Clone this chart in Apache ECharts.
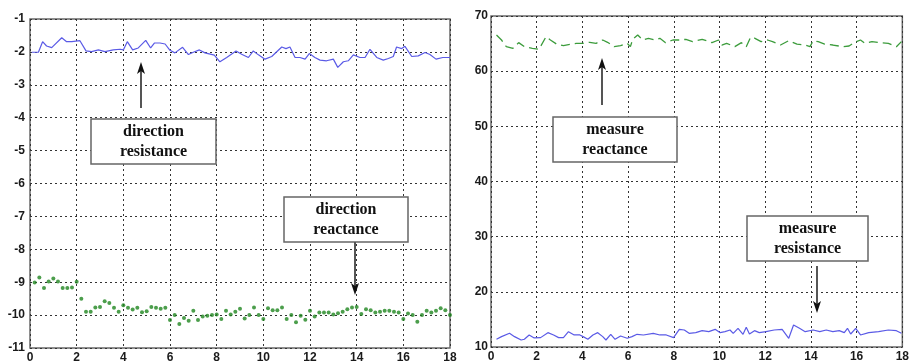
<!DOCTYPE html>
<html>
<head>
<meta charset="utf-8">
<script src="https://cdn.jsdelivr.net/npm/echarts@6/dist/echarts.min.js"></script>
<style>
  html, body { margin: 0; padding: 0; background: #fff; }
  #chart { width: 912px; height: 364px; }
</style>
</head>
<body>
<div id="chart"></div>
<script>
// left panel: direction resistance (blue line)
var dirResX = [0.07, 0.36, 0.54, 0.71, 0.93, 1.36, 1.57, 1.79, 2.14, 2.4, 2.64, 2.93, 3.21, 3.57, 3.86, 4.0, 4.17, 4.4, 4.64, 4.96,
    5.17, 5.33, 5.57, 5.79, 6.0, 6.21, 6.54, 6.79, 7.0, 7.26, 7.5, 7.9, 8.14, 8.43, 8.83, 9.07, 9.36, 9.57, 9.79, 10.07,
    10.36, 10.79, 10.97, 11.14, 11.36, 11.57, 11.79, 11.97, 12.21, 12.43, 12.71, 13.0, 13.19, 13.43, 13.64, 13.86, 14.14, 14.36, 14.57, 14.86,
    15.14, 15.36, 15.57, 15.71, 15.93, 16.07, 16.36, 16.64, 16.93, 17.14, 17.4, 17.69, 18.0];
var dirResY = [-2.01, -2.01, -1.69, -1.82, -1.87, -1.57, -1.69, -1.69, -1.66, -1.97, -1.99, -1.94, -1.99, -1.94, -1.92, -1.94, -1.69, -1.94, -1.88, -1.65,
    -1.88, -1.73, -1.73, -1.76, -1.95, -2.03, -1.86, -2.08, -2.01, -1.94, -2.03, -2.1, -2.3, -2.17, -1.97, -2.07, -2.17, -1.97, -2.09, -2.22,
    -2.14, -1.85, -1.9, -1.85, -2.17, -2.17, -2.22, -2.05, -2.17, -2.25, -2.27, -2.22, -2.47, -2.3, -2.27, -2.09, -2.17, -2.17, -1.92, -2.17,
    -2.25, -2.2, -2.14, -1.85, -1.9, -1.83, -2.14, -2.12, -2.02, -2.08, -2.22, -2.17, -2.17];

// left panel: direction reactance (green dots), sampled every 0.2
var dirReactStep = 0.2;
var dirReactY = [-9.01, -8.86, -9.18, -8.98, -8.89, -8.98, -9.18, -9.18, -9.16, -8.99,
    -9.5, -9.9, -9.9, -9.77, -9.75, -9.58, -9.63, -9.78, -9.9, -9.7,
    -9.78, -9.83, -9.78, -9.91, -9.88, -9.75, -9.78, -9.81, -9.78, -10.15,
    -10.0, -10.27, -10.09, -10.17, -9.87, -10.15, -10.04, -10.02, -10.0, -9.98,
    -10.12, -9.87, -9.98, -9.9, -9.81, -10.1, -10.0, -9.77, -10.0, -10.12,
    -9.79, -9.85, -9.85, -9.77, -10.12, -10.0, -10.22, -10.02, -10.14, -9.87,
    -10.04, -9.92, -9.92, -9.92, -9.98, -9.94, -9.9, -9.82, -9.77, -9.75,
    -9.97, -9.82, -9.85, -9.92, -9.9, -9.87, -9.87, -9.9, -9.92, -10.12,
    -9.95, -10.0, -10.2, -10.0, -9.87, -9.92, -9.87, -9.79, -9.85, -10.0];

// right panel: measure reactance (green dashed)
var measReactX = [0.24, 0.46, 0.67, 0.96, 1.21, 1.46, 1.81, 2.1, 2.41, 2.6, 2.89, 3.17, 3.46, 3.74, 4.03, 4.32, 4.6, 4.89, 5.1, 5.39,
    5.67, 5.96, 6.1, 6.2, 6.42, 6.64, 6.89, 7.17, 7.39, 7.64, 7.96, 8.24, 8.53, 8.82, 9.24, 9.67, 9.96, 10.1, 10.31, 10.67,
    10.96, 11.17, 11.36, 11.53, 11.82, 12.1, 12.32, 12.67, 13.03, 13.39, 13.75, 13.96, 14.1, 14.32, 14.6, 14.96, 15.39, 15.67, 15.89, 16.17,
    16.36, 16.67, 17.03, 17.39, 17.74, 17.96];
var measReactY = [66.56, 65.65, 64.44, 64.14, 65.17, 64.44, 64.14, 63.96, 66.25, 65.65, 64.86, 64.62, 64.86, 65.05, 65.05, 65.23, 65.05, 65.65, 65.23, 64.44,
    64.62, 65.05, 64.44, 65.77, 66.56, 65.65, 65.96, 65.65, 65.96, 65.17, 65.65, 65.65, 65.77, 65.35, 65.77, 65.17, 65.65, 64.74, 65.05, 64.44,
    65.17, 64.44, 66.13, 66.0, 65.35, 65.65, 65.35, 64.74, 65.53, 64.92, 64.74, 64.44, 65.53, 65.35, 64.92, 64.74, 64.44, 64.56, 65.17, 65.65,
    65.05, 65.35, 65.17, 65.05, 64.44, 65.35];

// right panel: measure resistance (blue line)
var measResX = [0.24, 0.46, 0.81, 1.03, 1.32, 1.46, 1.67, 1.89, 2.17, 2.49, 2.74, 2.96, 3.17, 3.39, 3.64, 3.89, 4.03, 4.24, 4.46, 4.67,
    4.89, 5.03, 5.24, 5.43, 5.67, 5.96, 6.17, 6.39, 6.67, 7.1, 7.39, 7.67, 7.99, 8.24, 8.46, 8.67, 8.96, 9.24, 9.53, 9.81,
    10.03, 10.24, 10.46, 10.6, 10.81, 11.03, 11.17, 11.31, 11.53, 11.74, 12.03, 12.39, 12.74, 13.03, 13.24, 13.5, 13.75, 14.1, 14.39, 14.67,
    14.96, 15.24, 15.46, 15.6, 15.74, 15.96, 16.17, 16.53, 16.96, 17.39, 17.74, 17.96];
var measResY = [11.4, 11.88, 12.48, 11.88, 11.27, 11.4, 12.18, 11.65, 11.7, 12.6, 12.18, 11.7, 11.7, 12.78, 12.18, 12.18, 11.88, 11.4, 12.18, 12.6,
    11.88, 11.27, 12.3, 11.4, 12.0, 11.58, 11.88, 12.3, 12.18, 12.48, 12.18, 12.18, 11.7, 13.2, 13.08, 12.48, 12.6, 12.96, 12.78, 13.2,
    12.6, 12.78, 13.08, 12.48, 13.39, 12.3, 13.57, 12.36, 12.96, 12.6, 12.78, 13.08, 13.2, 11.58, 14.0, 13.39, 12.78, 13.08, 12.78, 13.08,
    12.78, 12.96, 12.6, 13.39, 12.36, 13.39, 12.18, 12.6, 12.78, 13.08, 12.96, 12.48];

var xTicks = [0, 2, 4, 6, 8, 10, 12, 14, 16, 18];

function zip(xs, ys) {
    var out = [];
    for (var i = 0; i < ys.length; i++) out.push([xs[i], ys[i]]);
    return out;
}
var dirReactData = dirReactY.map(function (v, i) { return [(i + 1) * dirReactStep, v]; });

var labelStyle = { color: '#1a1a1a', fontWeight: 'bold', fontSize: 12, fontFamily: 'Liberation Sans' };
var gridLine = { show: true, lineStyle: { color: '#333', type: [2, 3], width: 1 } };

function xAxisFor(idx) {
    return {
        type: 'value', gridIndex: idx, min: xTicks[0], max: xTicks[xTicks.length - 1], interval: 2,
        axisLine: { show: false }, axisTick: { show: false },
        axisLabel: Object.assign({ margin: 4 }, labelStyle),
        splitLine: gridLine
    };
}

// annotation box + arrow, pixel positions
function note(x, y, w, h, text, ax, ay1, ay2) {
    var up = ay2 < ay1;
    var tipDir = up ? 1 : -1;
    return [
        { type: 'rect', shape: { x: x, y: y, width: w, height: h }, style: { fill: '#fff', stroke: '#666', lineWidth: 1.5 }, z: 10 },
        { type: 'text', x: x + w / 2, y: y + h / 2, style: { text: text, fill: '#111', font: 'bold 16px "Liberation Serif"', align: 'center', verticalAlign: 'middle', lineHeight: 20 }, z: 11 },
        { type: 'line', shape: { x1: ax, y1: ay1, x2: ax, y2: ay2 + tipDir * 8 }, style: { stroke: '#555', lineWidth: 2 }, z: 10 },
        { type: 'polygon', shape: { points: [[ax, ay2], [ax - 4, ay2 + tipDir * 12], [ax, ay2 + tipDir * 9], [ax + 4, ay2 + tipDir * 12]] }, style: { fill: '#111' }, z: 10 }
    ];
}

var chart = echarts.init(document.getElementById('chart'));
chart.setOption({
    animation: false,
    grid: [
        { left: 30, top: 19, width: 420, height: 330, show: true, borderColor: '#6a6a6a', borderWidth: 1.5 },
        { left: 491, top: 16, width: 419, height: 331, show: true, borderColor: '#6a6a6a', borderWidth: 1.5 }
    ],
    xAxis: [xAxisFor(0), xAxisFor(1)],
    yAxis: [
        { type: 'value', gridIndex: 0, min: -11, max: -1, interval: 1,
          axisLine: { show: false }, axisTick: { show: false },
          axisLabel: Object.assign({ margin: 5 }, labelStyle), splitLine: gridLine },
        { type: 'value', gridIndex: 1, min: 10, max: 70, interval: 10,
          axisLine: { show: false }, axisTick: { show: false },
          axisLabel: Object.assign({ margin: 3 }, labelStyle), splitLine: gridLine }
    ],
    series: [
        { name: 'direction resistance', type: 'line', xAxisIndex: 0, yAxisIndex: 0, data: zip(dirResX, dirResY),
          showSymbol: false, lineStyle: { color: '#5a5ae6', width: 1.2 } },
        { name: 'direction reactance', type: 'scatter', xAxisIndex: 0, yAxisIndex: 0, data: dirReactData,
          symbolSize: 4, itemStyle: { color: '#1f861f' } },
        { name: 'measure reactance', type: 'line', xAxisIndex: 1, yAxisIndex: 1, data: zip(measReactX, measReactY),
          showSymbol: false, lineStyle: { color: '#3c9c3c', width: 1.3, type: [9, 5] } },
        { name: 'measure resistance', type: 'line', xAxisIndex: 1, yAxisIndex: 1, data: zip(measResX, measResY),
          showSymbol: false, lineStyle: { color: '#5a5ae6', width: 1.2 } }
    ],
    graphic: [].concat(
        note(91, 119, 125, 45, 'direction\nresistance', 141, 108, 62),
        note(284, 197, 124, 45, 'direction\nreactance', 355, 242, 295),
        note(553, 117, 124, 45, 'measure\nreactance', 602, 105, 58),
        note(747, 216, 121, 45, 'measure\nresistance', 817, 266, 313)
    )
});
</script>
</body>
</html>
